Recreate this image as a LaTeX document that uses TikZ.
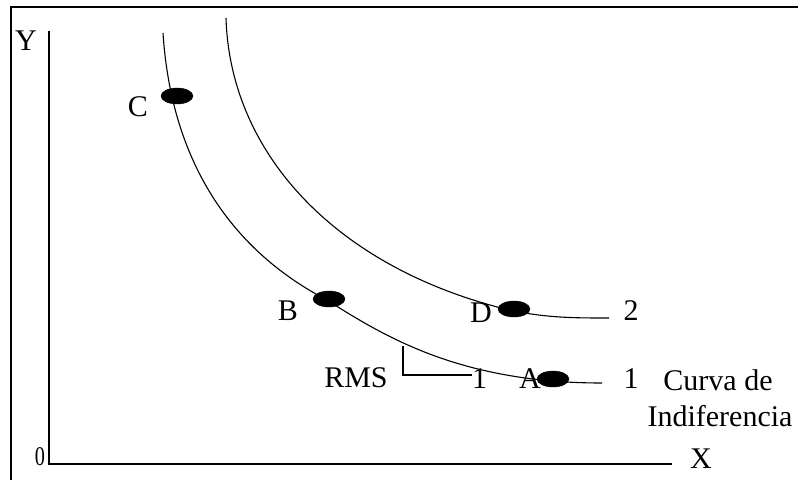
\documentclass[tikz,border=0pt]{standalone}
\usepackage{fontspec}
\setmainfont{Liberation Serif}
\usetikzlibrary{shapes.geometric}

\begin{document}
\begin{tikzpicture}[x=1pt, y=-1pt,
        dot/.style = {draw, fill=black, ellipse, inner sep=0pt, minimum width=32pt, minimum height=16pt},
        lbl/.style = {inner sep=0pt, font=\fontsize{30}{33}\selectfont},
        axis/.style = {line width=2.6pt},
        curve/.style = {line width=1.1pt}]
            \useasboundingbox (0,0) rectangle (798,480);
            % frame (cut at the right and bottom)
            \draw[line width=2pt] (11,480) -- (11,7) -- (798,7);

            % axes
            \coordinate (O) at (49,464);
            \coordinate (Ytop) at (49,31);
            \coordinate (Xend) at (672,464);
            \draw[axis] (Ytop) -- (O) -- (Xend);
            \node[lbl] (Y) at (26,41) {Y};
            \node[lbl] (X) at (701,459) {X};
            \node[inner sep=0pt, xscale=0.75, font=\fontsize{27}{30}\selectfont] (zero) at (40,457) {0};

            % curva 1
            \coordinate (c1s) at (163,33);
            \coordinate (c1m) at (325,299);
            \coordinate (c1e) at (602,383);
            \draw[curve] (c1s) .. controls (168,110) and (195,230) .. (c1m)
                               .. controls (380,333) and (455,383) .. (c1e);
            % curva 2
            \coordinate (c2s) at (226,18);
            \coordinate (c2m) at (490,305);
            \coordinate (c2e) at (609,318);
            \draw[curve] (c2s) .. controls (230,150) and (330,260) .. (c2m)
                               .. controls (535,318) and (570,318) .. (c2e);

            \node[dot] (C) at (177,96) {};
            \node[dot] (B) at (329,299) {};
            \node[dot] (D) at (514,309) {};
            \node[dot] (A) at (553,379) {};

            \node[lbl] (labC) at (138,107) {C};
            \node[lbl] (labB) at (288,311) {B};
            \node[lbl] (labD) at (481,313) {D};
            \node[lbl] (labA) at (530,379) {A};
            \node[lbl] (two) at (631,311) {2};
            \node[lbl] (one) at (631,379) {1};

            % RMS
            \coordinate (r) at (403,346);
            \coordinate (rb) at (403,375);
            \node[lbl] (RMS) at (356,378) {RMS};
            \node[lbl, anchor=west] (rms1) at (472,379) {1};
            \draw[line width=1.1pt] (r) -- (rb) -- (rms1.west |- rb);

            \node[lbl] (curva) at (718,380) {Curva de};
            \node[lbl] (indif) at (720,416) {Indiferencia};
        \end{tikzpicture}
\end{document}
